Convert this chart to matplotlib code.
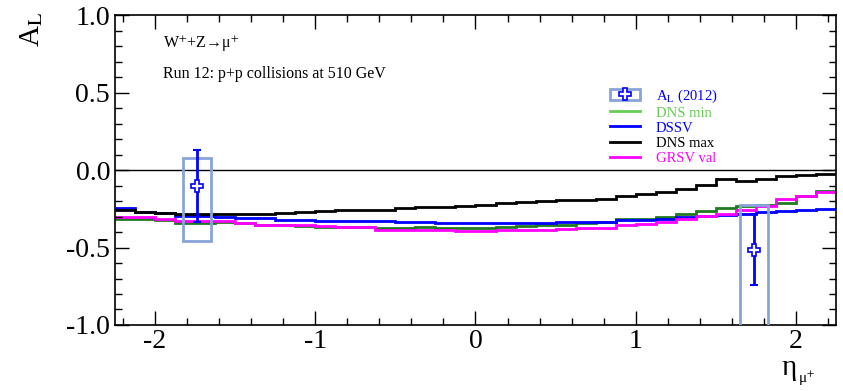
#!/usr/bin/env python3
"""W+Z -> mu+ longitudinal single-spin asymmetry vs eta, Run 12 at 510 GeV."""

import numpy as np
import matplotlib
matplotlib.use("Agg")
import matplotlib.pyplot as plt
from matplotlib.patches import Rectangle
from matplotlib.lines import Line2D
from matplotlib.ticker import MultipleLocator, FormatStrFormatter

plt.rcParams['font.family'] = ['Liberation Serif', 'DejaVu Serif']
plt.rcParams['mathtext.fontset'] = 'stix'
plt.rcParams['axes.unicode_minus'] = False

# theory curves, 36 bins of 0.125 in eta from -2.25 to 2.25
bin_edges = np.arange(-2.25, 2.25 + 0.001, 0.125)
dns_max = [-0.255, -0.270, -0.276, -0.283, -0.287, -0.287, -0.283, -0.281, -0.276,
           -0.270, -0.266, -0.257, -0.257, -0.255, -0.246, -0.240, -0.240, -0.231,
           -0.223, -0.214, -0.208, -0.201, -0.192, -0.195, -0.184, -0.169, -0.154,
           -0.139, -0.121, -0.094, -0.061, -0.070, -0.055, -0.040, -0.029, -0.023]
dssv = [-0.248, -0.270, -0.276, -0.294, -0.294, -0.302, -0.310, -0.310, -0.324,
        -0.324, -0.328, -0.328, -0.328, -0.332, -0.337, -0.336, -0.341, -0.345,
        -0.345, -0.341, -0.341, -0.341, -0.337, -0.335, -0.335, -0.324, -0.320,
        -0.313, -0.306, -0.298, -0.291, -0.287, -0.272, -0.264, -0.257, -0.253]
dns_min = [-0.313, -0.315, -0.322, -0.343, -0.343, -0.335, -0.341, -0.356, -0.356,
           -0.360, -0.365, -0.365, -0.367, -0.373, -0.373, -0.367, -0.371, -0.375,
           -0.371, -0.367, -0.362, -0.358, -0.356, -0.343, -0.337, -0.319, -0.313,
           -0.302, -0.285, -0.266, -0.248, -0.233, -0.225, -0.212, -0.165, -0.135]
grsv_val = [-0.302, -0.306, -0.313, -0.332, -0.332, -0.332, -0.341, -0.352, -0.352,
            -0.358, -0.360, -0.367, -0.367, -0.384, -0.386, -0.384, -0.388, -0.392,
            -0.392, -0.388, -0.388, -0.386, -0.382, -0.375, -0.373, -0.356, -0.348,
            -0.337, -0.319, -0.298, -0.287, -0.259, -0.233, -0.190, -0.169, -0.145]

# measured A_L (2012)
eta_meas = [-1.74, 1.74]
al_meas = [-0.105, -0.513]
al_stat = [0.232, 0.229]
sys_lo = [-0.455, -1.05]
sys_hi = [0.076, -0.223]
sys_halfwidth = 0.087

fig = plt.figure(figsize=(8.43, 3.91), dpi=100)
ax = fig.add_axes([0.1364, 0.1688, 0.8553, 0.7928])

green_dark = '#1f7a1f'
green_light = '#66cc55'
box_col = '#88a4d8'

curves = [(dns_min, green_dark), (dssv, 'blue'), (dns_max, 'black'), (grsv_val, 'magenta')]
for vals, col in curves:
    ax.stairs(vals, bin_edges, color=col, lw=2, baseline=None)

ax.axhline(0, color='black', lw=1)

for x, lo, hi in zip(eta_meas, sys_lo, sys_hi):
    ax.add_patch(Rectangle((x - sys_halfwidth, lo), 2 * sys_halfwidth, hi - lo,
                           fill=False, edgecolor=box_col, lw=2, zorder=4))
ax.errorbar(eta_meas, al_meas, yerr=al_stat, fmt='none', ecolor='blue',
            elinewidth=2, capsize=3, capthick=1.5, zorder=5)
ax.plot(eta_meas, al_meas, ls='none', marker='P', ms=9, mfc='white',
        mec='blue', mew=1.2, zorder=6)

ax.set_xlim(-2.25, 2.25)
ax.set_ylim(-1.0, 1.0)
ax.xaxis.set_major_locator(MultipleLocator(1))
ax.xaxis.set_minor_locator(MultipleLocator(0.2))
ax.yaxis.set_major_locator(MultipleLocator(0.5))
ax.yaxis.set_minor_locator(MultipleLocator(0.1))
ax.yaxis.set_major_formatter(FormatStrFormatter('%.1f'))
ax.tick_params(which='both', direction='in', top=True, right=True, labelsize=20)
ax.tick_params(which='major', length=10, width=1)
ax.tick_params(which='minor', length=5, width=1)
ax.tick_params(axis='x', pad=3)
for sp in ax.spines.values():
    sp.set_linewidth(1.2)

fig.text(0.038, 0.925, r'A$_{\rm L}$', rotation=90, fontsize=21, ha='center', va='center')
# x label: upright eta with mu+ subscript
fig.text(0.936, 0.042, 'η', fontsize=21, ha='center', va='baseline')
fig.text(0.957, 0.020, 'μ$^{+}$', fontsize=11, ha='center', va='baseline')

ax.text(0.067, 0.905, 'W$^{+}$+Z→μ$^{+}$', transform=ax.transAxes, fontsize=11.5,
        ha='left', va='center')
ax.text(0.067, 0.81, 'Run 12: p+p collisions at 510 GeV', transform=ax.transAxes,
        fontsize=11.5, ha='left', va='center')

h_meas = (Rectangle((0, 0), 1, 1, fill=False, edgecolor=box_col, lw=2),
          Line2D([], [], ls='none', marker='P', ms=8, mfc='white', mec='blue', mew=1.2))
handles = [h_meas,
           Line2D([], [], color=green_light, lw=2),
           Line2D([], [], color='blue', lw=2),
           Line2D([], [], color='black', lw=2),
           Line2D([], [], color='magenta', lw=2)]
labels = [r'A$_{\rm L}$ (2012)', 'DNS min', 'DSSV', 'DNS max', 'GRSV val']
text_cols = ['blue', green_light, 'blue', 'black', 'magenta']
leg = ax.legend(handles, labels, loc='upper left', bbox_to_anchor=(0.673, 0.8),
                frameon=False, fontsize=10.5, handlelength=2.0, handleheight=0.8,
                labelspacing=0.1, handletextpad=1.1, borderpad=0.2)
for t, c in zip(leg.get_texts(), text_cols):
    t.set_color(c)

plt.savefig('out.png', dpi=100)
